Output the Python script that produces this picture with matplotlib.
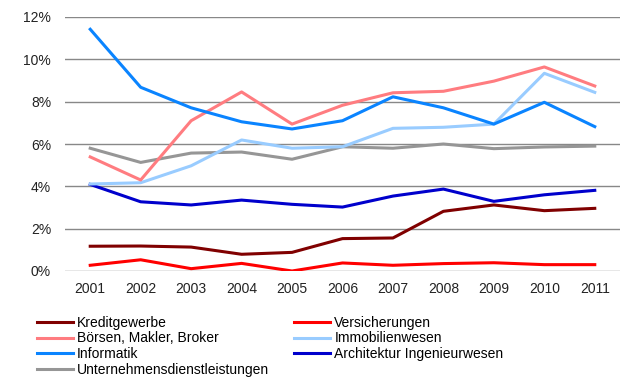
import numpy as np
import matplotlib.pyplot as plt
from matplotlib.ticker import FuncFormatter

plt.rcParams['font.family'] = ['Liberation Sans', 'DejaVu Sans']

years = ['2001', '2002', '2003', '2004', '2005', '2006',
         '2007', '2008', '2009', '2010', '2011']

# Anteile in Prozent
kreditgewerbe = [1.17, 1.18, 1.13, 0.79, 0.88, 1.53, 1.56, 2.82, 3.12, 2.85, 2.96]
versicherungen = [0.27, 0.53, 0.11, 0.36, 0.00, 0.38, 0.27, 0.35, 0.39, 0.30, 0.30]
boersen = [5.39, 4.30, 7.10, 8.46, 6.94, 7.83, 8.42, 8.49, 8.97, 9.64, 8.74]
immobilien = [4.11, 4.17, 4.97, 6.19, 5.80, 5.87, 6.74, 6.79, 6.94, 9.34, 8.44]
informatik = [11.42, 8.68, 7.71, 7.05, 6.71, 7.10, 8.23, 7.71, 6.94, 7.97, 6.82]
architektur = [4.09, 3.27, 3.12, 3.35, 3.15, 3.02, 3.54, 3.87, 3.29, 3.60, 3.81]
unternehmen = [5.80, 5.13, 5.57, 5.62, 5.28, 5.87, 5.80, 6.00, 5.78, 5.86, 5.90]

fig = plt.figure(figsize=(6.25, 3.84), dpi=100)
ax = fig.add_axes([65 / 625, 1 - 271 / 384, 555 / 625, 254 / 384])

x = np.arange(len(years))
lw = 2.2
l_unt, = ax.plot(x, unternehmen, color='#969696', lw=lw, label='Unternehmensdienstleistungen')
l_kre, = ax.plot(x, kreditgewerbe, color='#800000', lw=lw, label='Kreditgewerbe')
l_ver, = ax.plot(x, versicherungen, color='#FF0000', lw=lw, label='Versicherungen')
l_arc, = ax.plot(x, architektur, color='#0000CC', lw=lw, label='Architektur Ingenieurwesen')
l_imm, = ax.plot(x, immobilien, color='#99CCFF', lw=lw, label='Immobilienwesen')
l_boe, = ax.plot(x, boersen, color='#FF7C80', lw=lw, label='Börsen, Makler, Broker')
l_inf, = ax.plot(x, informatik, color='#0A84FF', lw=lw, label='Informatik')

ax.set_xlim(-0.5, len(years) - 0.5)
ax.set_ylim(0, 12)
ax.set_yticks(np.arange(0, 13, 2))
ax.yaxis.set_major_formatter(FuncFormatter(lambda v, p: f'{v:.0f}%'))
ax.set_xticks(x)
ax.set_xticklabels(years)
ax.grid(axis='y', color='#888888', lw=1)
ax.set_axisbelow(True)
for s in ax.spines.values():
    s.set_visible(False)
ax.tick_params(length=0, labelsize=10, colors='#222222')
ax.tick_params(axis='y', pad=10)
ax.tick_params(axis='x', pad=8)

handles = [l_kre, l_boe, l_inf, l_unt, l_ver, l_imm, l_arc]
fig.legend(handles=handles, labels=[h.get_label() for h in handles],
           ncol=2, loc='upper left', bbox_to_anchor=(27 / 625, 1 - 306 / 384),
           frameon=False, fontsize=10, handlelength=2.6, handletextpad=0.3,
           labelspacing=0.12, columnspacing=1.8, borderpad=0.2)

fig.savefig('out.png', dpi=100)
